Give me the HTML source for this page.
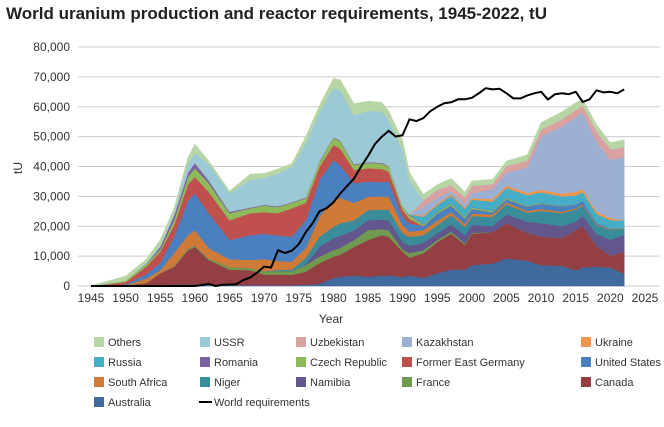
<!DOCTYPE html>
<html><head><meta charset="utf-8"><style>
html,body{margin:0;padding:0;background:#fff;}
body{width:664px;height:422px;overflow:hidden;font-family:"Liberation Sans",sans-serif;}
svg text{font-family:"Liberation Sans",sans-serif;}
</style></head><body>
<svg id="chart" width="664" height="422" viewBox="0 0 664 422">
<text x="6" y="19" font-size="17" font-weight="bold" fill="#222">World uranium production and reactor requirements, 1945-2022, tU</text>
<g id="grid"></g><g id="areas"></g><g id="line"></g><g id="axes"></g><g id="legend"></g>
</svg>
<script>
const years=[1945,1950,1953,1955,1957,1959,1960,1962,1965,1968,1970,1972,1974,1976,1978,1980,1981,1983,1985,1987,1988,1990,1991,1993,1995,1997,1999,2000,2003,2005,2008,2010,2013,2015,2016,2018,2020,2022];
const australia=[0,0,0,300,500,500,500,500,300,300,300,300,300,400,700,2700,3100,3500,3100,3500,3500,3000,3500,2700,4300,5500,5500,7000,7500,9200,8500,7000,6800,5300,6200,6500,6200,4100];
const canada=[0,200,1000,4000,5900,11500,12600,8200,5200,5000,3500,3500,3400,4400,7000,7100,7400,9600,12300,13500,13000,8500,6000,8300,10400,12000,8300,10500,10500,11800,9300,9500,9300,13300,14000,7000,3900,7400];
const france=[0,0,0,0,300,500,400,500,800,700,1200,1300,1300,2200,2100,2200,2300,2300,3300,2000,2200,800,1500,1000,700,700,400,300,0,0,0,0,0,0,0,0,0,0];
const namibia=[0,0,0,0,0,0,0,0,0,0,0,0,0,300,3300,4000,4000,3300,3300,3300,3300,2500,2500,2400,2300,2500,2700,2700,2000,3000,3700,4500,4000,2900,3300,3900,5400,5600];
const niger=[0,0,0,0,0,0,0,0,0,0,0,300,500,2100,3400,3800,4200,3300,3400,3300,3400,2900,3000,2600,2700,3000,2900,2900,3100,3300,3000,4200,4300,4100,3500,2900,3500,2000];
const southAfrica=[0,0,1500,1000,4300,4500,5200,3500,2700,2700,4000,3000,2600,3300,6700,9000,8500,5800,4500,4400,4500,2700,1700,1700,1500,1000,1000,900,800,700,600,600,500,400,400,300,250,200];
const unitedStates=[0,300,1500,2400,5500,11500,12300,11700,6400,8300,8500,8500,8400,9300,12300,13300,11000,6600,5000,4800,5000,2800,2800,1300,2400,2200,1800,1500,800,1000,1500,1700,1800,1200,1100,600,10,75];
const eastGermany=[0,800,2500,3800,3900,5500,5500,7100,6600,7400,7200,7500,9500,5800,4400,5100,5500,4400,4500,4400,3300,2200,1500,0,0,0,0,0,0,0,0,0,0,0,0,0,0,0];
const czech=[0,500,800,800,1600,2500,2900,2900,2400,1600,2200,2000,1800,1600,1700,2300,2500,1700,1800,1800,1700,1100,1200,500,500,600,600,500,400,400,300,250,200,100,0,0,0,0];
const romania=[0,0,200,900,1700,1500,1800,1000,500,300,300,300,300,300,300,300,300,300,300,300,300,200,200,100,100,100,100,100,100,100,0,0,0,0,0,0,0,0];
const russia=[0,0,0,0,0,0,0,0,0,0,0,0,0,0,0,0,0,0,0,0,0,0,0,2600,2100,2600,2500,2500,3100,3300,3500,3600,3100,3000,3000,2900,2800,2500];
const ukraine=[0,0,0,0,0,0,0,0,0,0,0,0,0,0,0,0,0,0,0,0,0,0,0,500,500,500,500,500,800,800,800,850,900,1200,1000,800,700,100];
const kazakhstan=[0,0,0,0,0,0,0,0,0,0,0,0,0,0,0,0,0,0,0,0,0,0,0,2800,2000,1000,1400,1700,3300,4300,8500,17800,22500,25000,25600,23500,19500,21200];
const uzbekistan=[0,0,0,0,0,0,0,0,0,0,0,0,0,0,0,0,0,0,0,0,0,0,0,2200,2700,2100,2000,2400,1700,2300,2200,2400,2400,2400,2400,3400,3500,3300];
const ussr=[0,0,300,500,800,3000,3300,5500,6100,9200,9000,11000,11800,18100,16400,16400,16700,16300,17100,17200,15300,19000,11600,0,0,0,0,0,0,0,0,0,0,0,0,0,0,0];
const others=[100,1500,1200,1800,1500,2000,3000,1000,800,2000,1500,1500,1100,2200,2200,3300,3500,3900,3300,3000,3000,3100,2500,2000,1700,2200,1800,1600,1600,1600,2000,2300,2500,2500,2000,2200,2200,2500];
const reqYears=[1945,1960,1961,1962,1963,1964,1965,1966,1967,1968,1969,1970,1971,1972,1973,1974,1975,1976,1977,1978,1979,1980,1981,1982,1983,1984,1985,1986,1987,1988,1989,1990,1991,1992,1993,1994,1995,1996,1997,1998,1999,2000,2001,2002,2003,2004,2005,2006,2007,2008,2009,2010,2011,2012,2013,2014,2015,2016,2017,2018,2019,2020,2021,2022];
const requirements=[0,0,300,700,0,400,500,600,2000,2800,4500,6500,6200,12000,11000,11800,14000,18000,21000,25000,26000,28000,31000,33500,36000,40000,43500,47500,50000,52000,50000,50500,55800,55200,56200,58500,60000,61200,61500,62500,62500,63000,64500,66200,65800,66000,64500,62800,62800,63800,64500,65000,62400,64200,64500,64200,65000,61600,62500,65500,64800,65000,64500,65800];
const yTicks=[0,10000,20000,30000,40000,50000,60000,70000,80000];
const xTicks=[1945,1950,1955,1960,1965,1970,1975,1980,1985,1990,1995,2000,2005,2010,2015,2020,2025];

const series=[
 ['Australia',australia,'#40699c'],['Canada',canada,'#943f44'],['France',france,'#6f9a4f'],['Namibia',namibia,'#62568d'],
 ['Niger',niger,'#3a8c9a'],['South Africa',southAfrica,'#cf7a37'],['United States',unitedStates,'#4a7fc0'],['Former East Germany',eastGermany,'#c0504d'],
 ['Czech Republic',czech,'#8fba5a'],['Romania',romania,'#7b62a3'],['Russia',russia,'#45aec6'],['Ukraine',ukraine,'#f29549'],
 ['Kazakhstan',kazakhstan,'#9bb0d3'],['Uzbekistan',uzbekistan,'#d9a1a0'],['USSR',ussr,'#9cc9d6'],['Others',others,'#b8d5a6']];

const NS='http://www.w3.org/2000/svg';
const X0=91,X1=645,Y0=286,Y1=47;
const xs=y=>X0+(y-1945)/(2025-1945)*(X1-X0);
const ys=v=>Y0-v/80000*(Y0-Y1);
function mk(tag,attrs,parent){const e=document.createElementNS(NS,tag);for(const k in attrs)e.setAttribute(k,attrs[k]);parent.appendChild(e);return e;}
const grid=document.getElementById('grid'),axes=document.getElementById('axes');
yTicks.forEach(t=>{
 const l=mk('line',{x1:78,x2:660,y1:ys(t),y2:ys(t),stroke:'#cccccc','stroke-width':1},grid);
 
 
 const tx=mk('text',{x:70,y:ys(t)+4,'text-anchor':'end','font-size':12,fill:'#333'},axes);
 tx.textContent=t.toLocaleString('en-US');
 
 
});
xTicks.forEach(t=>{
 const tx=mk('text',{x:xs(t),y:302,'text-anchor':'middle','font-size':12,fill:'#333'},axes);
 tx.textContent=t;
 
 
});
const yt=mk('text',{x:22,y:168,'text-anchor':'middle','font-size':12,fill:'#333',transform:'rotate(-90 22 168)'},axes);
yt.textContent='tU';


const xt=mk('text',{x:331,y:323,'text-anchor':'middle','font-size':12,fill:'#333'},axes);
xt.textContent='Year';



const areas=document.getElementById('areas');
let base=years.map(()=>0);
series.forEach(s=>{
 const top=base.map((b,i)=>b+s[1][i]);
 let d='M'+years.map((y,i)=>xs(y).toFixed(1)+','+ys(top[i]).toFixed(1)).join('L');
 for(let i=years.length-1;i>=0;i--)d+='L'+xs(years[i]).toFixed(1)+','+ys(base[i]).toFixed(1);
 const p=mk('path',{d:d+'Z',fill:s[2],stroke:s[2],'stroke-width':0.5},areas);
 
 
 base=top;
});
const lp=mk('path',{d:'M'+reqYears.map((y,i)=>xs(y).toFixed(1)+','+ys(requirements[i]).toFixed(1)).join('L'),fill:'none',stroke:'#000','stroke-width':2,'stroke-linejoin':'round'},document.getElementById('line'));



const legend=document.getElementById('legend');
const cols=[94,200,296,402,581],rows=[342,362,382,402];
const order=series.slice().reverse();
order.push(['World requirements',null,'#000']);
order.forEach((s,i)=>{
 const cx=cols[i%5],cy=rows[Math.floor(i/5)];
 const g=mk('g',{},legend);
 
 
 if(s[1]) mk('rect',{x:cx,y:cy-5,width:10,height:10,fill:s[2]},g);
 else mk('line',{x1:cx-1,x2:cx+12,y1:cy,y2:cy,stroke:'#000','stroke-width':2},g);
 const t=mk('text',{x:cx+14,y:cy+4,'font-size':11,fill:'#333'},g);
 t.textContent=s[0];
});
</script>
</body></html>
